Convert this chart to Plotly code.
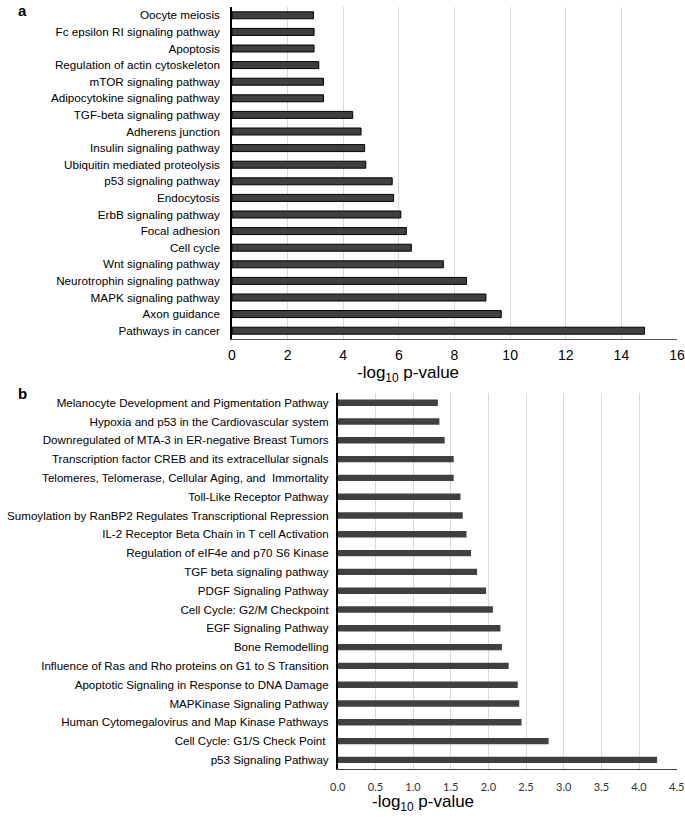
import plotly.graph_objects as go

# Panel a (KEGG pathways), listed top to bottom
cats_a = [
    "Oocyte meiosis", "Fc epsilon RI signaling pathway", "Apoptosis",
    "Regulation of actin cytoskeleton", "mTOR signaling pathway",
    "Adipocytokine signaling pathway", "TGF-beta signaling pathway",
    "Adherens junction", "Insulin signaling pathway",
    "Ubiquitin mediated proteolysis", "p53 signaling pathway", "Endocytosis",
    "ErbB signaling pathway", "Focal adhesion", "Cell cycle",
    "Wnt signaling pathway", "Neurotrophin signaling pathway",
    "MAPK signaling pathway", "Axon guidance", "Pathways in cancer",
]
vals_a = [2.93, 2.95, 2.95, 3.12, 3.29, 3.29, 4.34, 4.64, 4.77, 4.81,
          5.76, 5.81, 6.07, 6.27, 6.45, 7.60, 8.43, 9.13, 9.68, 14.83]
ticks_a = [0, 2, 4, 6, 8, 10, 12, 14, 16]

# Panel b (BioCarta pathways), listed top to bottom
cats_b = [
    "Melanocyte Development and Pigmentation Pathway",
    "Hypoxia and p53 in the Cardiovascular system",
    "Downregulated of MTA-3 in ER-negative Breast Tumors",
    "Transcription factor CREB and its extracellular signals",
    "Telomeres, Telomerase, Cellular Aging, and  Immortality",
    "Toll-Like Receptor Pathway",
    "Sumoylation by RanBP2 Regulates Transcriptional Repression",
    "IL-2 Receptor Beta Chain in T cell Activation",
    "Regulation of eIF4e and p70 S6 Kinase",
    "TGF beta signaling pathway",
    "PDGF Signaling Pathway",
    "Cell Cycle: G2/M Checkpoint",
    "EGF Signaling Pathway",
    "Bone Remodelling",
    "Influence of Ras and Rho proteins on G1 to S Transition",
    "Apoptotic Signaling in Response to DNA Damage",
    "MAPKinase Signaling Pathway",
    "Human Cytomegalovirus and Map Kinase Pathways",
    "Cell Cycle: G1/S Check Point ",
    "p53 Signaling Pathway",
]
vals_b = [1.33, 1.35, 1.42, 1.54, 1.54, 1.63, 1.66, 1.71, 1.77, 1.85,
          1.97, 2.06, 2.16, 2.18, 2.27, 2.39, 2.41, 2.44, 2.80, 4.24]
ticks_b = [0.0, 0.5, 1.0, 1.5, 2.0, 2.5, 3.0, 3.5, 4.0, 4.5]

W, H = 685, 817
BAR = "#404040"
NARROW = "Liberation Sans Narrow, Arial Narrow, Liberation Sans, Arial"
ARIAL = "Liberation Sans, Arial"

fig = go.Figure()
fig.add_trace(go.Bar(
    x=vals_a, y=cats_a, orientation="h", xaxis="x", yaxis="y",
    marker=dict(color=BAR, line=dict(color="#000000", width=1)),
    width=0.42, showlegend=False,
))
fig.add_trace(go.Bar(
    x=vals_b, y=cats_b, orientation="h", xaxis="x2", yaxis="y2",
    marker=dict(color=BAR, line=dict(width=0)),
    width=0.34, showlegend=False,
))

def px_x(p):
    return p / W

def px_y(p):
    return 1 - p / H

fig.update_layout(
    width=W, height=H, autosize=False,
    margin=dict(l=0, r=0, t=0, b=0),
    paper_bgcolor="white", plot_bgcolor="white",
    xaxis=dict(
        domain=[px_x(232), px_x(677)], anchor="y", automargin=False,
        range=[0, 16], tickvals=ticks_a, ticktext=[str(t) for t in ticks_a],
        showgrid=True, gridcolor="#d9d9d9", gridwidth=1,
        showline=True, linecolor="#595959", linewidth=1,
        ticks="", zeroline=False, ticklabelstandoff=3,
        tickfont=dict(family=NARROW, size=14, color="#000000"),
    ),
    yaxis=dict(
        domain=[px_y(339), px_y(7)], anchor="x", automargin=False,
        autorange="reversed", type="category",
        showline=True, linecolor="#000000", linewidth=1.5,
        showgrid=False, ticks="", ticklabelstandoff=8,
        tickfont=dict(family=NARROW, size=11.7, color="#000000"),
    ),
    xaxis2=dict(
        domain=[px_x(337.7), px_x(676.7)], anchor="y2", automargin=False,
        range=[0, 4.5], tickvals=ticks_b,
        ticktext=["%.1f" % t for t in ticks_b],
        showgrid=True, gridcolor="#d9d9d9", gridwidth=1,
        showline=True, linecolor="#404040", linewidth=1,
        ticks="", zeroline=False, ticklabelstandoff=7,
        tickfont=dict(family="Lato, Open Sans", size=11, color="#333333"),
    ),
    yaxis2=dict(
        domain=[px_y(769.3), px_y(393.3)], anchor="x2", automargin=False,
        autorange="reversed", type="category",
        showline=True, linecolor="#000000", linewidth=1.5,
        showgrid=False, ticks="", ticklabelstandoff=5,
        tickfont=dict(family=ARIAL, size=11.6, color="#000000"),
    ),
    bargap=0.6,
    annotations=[
        dict(text="<b>a</b>", x=px_x(22), y=px_y(10), xref="paper", yref="paper",
             xanchor="center", yanchor="middle", showarrow=False,
             font=dict(family=ARIAL, size=15, color="#000000")),
        dict(text="<b>b</b>", x=px_x(22), y=px_y(393), xref="paper", yref="paper",
             xanchor="center", yanchor="middle", showarrow=False,
             font=dict(family=ARIAL, size=15, color="#000000")),
        dict(text="-log<sub>10</sub> p-value", x=px_x(408), y=px_y(374),
             xref="paper", yref="paper", xanchor="center", yanchor="middle",
             showarrow=False,
             font=dict(family=NARROW, size=17, color="#000000")),
        dict(text="-log<sub>10</sub> p-value", x=px_x(422.5), y=px_y(803),
             xref="paper", yref="paper", xanchor="center", yanchor="middle",
             showarrow=False,
             font=dict(family=ARIAL, size=17, color="#000000")),
    ],
)

fig.write_html("out.html", config={"displayModeBar": False},
               post_script="document.body.style.margin='0';")
